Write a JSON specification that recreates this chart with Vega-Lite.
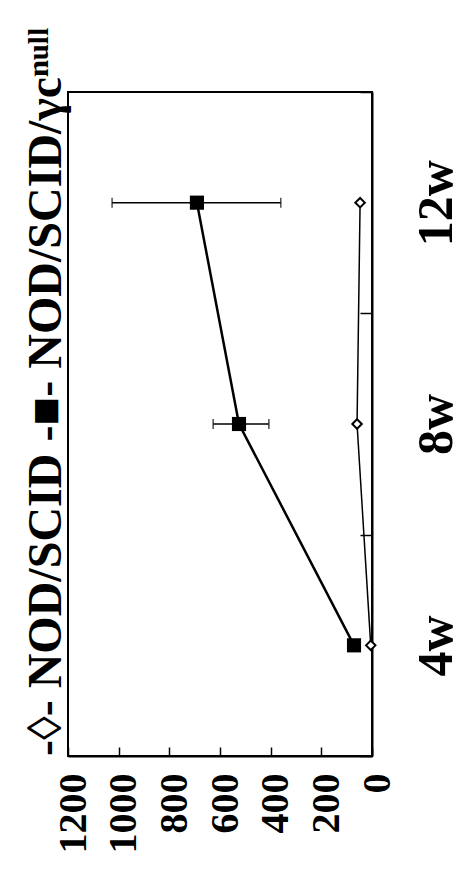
{
  "$schema": "https://vega.github.io/schema/vega-lite/v6.json",
  "width": 304,
  "height": 664,
  "autosize": {"type": "none"},
  "padding": {"left": 68, "top": 92, "right": 92, "bottom": 116},
  "background": "white",
  "title": {
    "text": "-◊- NOD/SCID -■- NOD/SCID/γcⁿᵘˡˡ",
    "orient": "left",
    "anchor": "start",
    "frame": "group",
    "font": "Liberation Serif",
    "fontWeight": "bold",
    "fontSize": 48,
    "baseline": "alphabetic",
    "offset": -56,
    "color": "black"
  },
  "config": {
    "view": {"stroke": "black", "strokeWidth": 2},
    "axis": {"grid": false, "title": null, "domainColor": "black", "domainWidth": 2, "tickColor": "black", "tickWidth": 1.5, "labelColor": "black", "labelFont": "Liberation Serif", "labelFontWeight": "bold"}
  },
  "datasets": {
    "pts": [
      {"week": "4w", "group": "NOD/SCID", "value": 5},
      {"week": "8w", "group": "NOD/SCID", "value": 59},
      {"week": "12w", "group": "NOD/SCID", "value": 47},
      {"week": "4w", "group": "NOD/SCID/γc null", "value": 71},
      {"week": "8w", "group": "NOD/SCID/γc null", "value": 525},
      {"week": "12w", "group": "NOD/SCID/γc null", "value": 691}
    ],
    "errs": [
      {"week": "8w", "lo": 407, "hi": 627},
      {"week": "12w", "lo": 360, "hi": 1026}
    ]
  },
  "encoding": {
    "y": {
      "field": "week",
      "type": "ordinal",
      "sort": ["12w", "8w", "4w"],
      "scale": {"type": "band", "paddingInner": 0, "paddingOuter": 0},
      "axis": {
        "orient": "right",
        "tickBand": "extent",
        "tickSize": -12,
        "labelAngle": -90,
        "labelAlign": "center",
        "labelBaseline": "top",
        "labelFontSize": 50,
        "labelPadding": 51,
        "domain": true
      }
    }
  },
  "layer": [
    {
      "data": {"name": "errs"},
      "mark": {"type": "rule", "color": "black", "strokeWidth": 1.5},
      "encoding": {
        "x": {"field": "lo", "type": "quantitative", "scale": {"domain": [0, 1200], "reverse": true, "nice": false},
          "axis": {"values": [0, 200, 400, 600, 800, 1000, 1200], "format": "d", "labelAngle": -90, "labelAlign": "right", "labelBaseline": "middle", "labelFontSize": 40, "labelPadding": 26, "labelOffset": 5, "tickSize": -9}},
        "x2": {"field": "hi"}
      }
    },
    {
      "data": {"name": "errs"},
      "mark": {"type": "tick", "color": "black", "size": 10, "thickness": 1.5, "orient": "vertical"},
      "encoding": {"x": {"field": "lo", "type": "quantitative"}}
    },
    {
      "data": {"name": "errs"},
      "mark": {"type": "tick", "color": "black", "size": 10, "thickness": 1.5, "orient": "vertical"},
      "encoding": {"x": {"field": "hi", "type": "quantitative"}}
    },
    {
      "data": {"name": "pts"},
      "transform": [{"filter": "datum.group === 'NOD/SCID'"}],
      "mark": {"type": "line", "color": "black", "strokeWidth": 1.5},
      "encoding": {"x": {"field": "value", "type": "quantitative"}}
    },
    {
      "data": {"name": "pts"},
      "transform": [{"filter": "datum.group !== 'NOD/SCID'"}],
      "mark": {"type": "line", "color": "black", "strokeWidth": 2.5},
      "encoding": {"x": {"field": "value", "type": "quantitative"}}
    },
    {
      "data": {"name": "pts"},
      "transform": [{"filter": "datum.group !== 'NOD/SCID'"}],
      "mark": {"type": "point", "shape": "square", "filled": true, "color": "black", "size": 200, "opacity": 1},
      "encoding": {"x": {"field": "value", "type": "quantitative"}}
    },
    {
      "data": {"name": "pts"},
      "transform": [{"filter": "datum.group === 'NOD/SCID'"}],
      "mark": {"type": "point", "shape": "diamond", "filled": false, "fill": "white", "stroke": "black", "strokeWidth": 2, "size": 90, "opacity": 1},
      "encoding": {"x": {"field": "value", "type": "quantitative"}}
    }
  ]
}
